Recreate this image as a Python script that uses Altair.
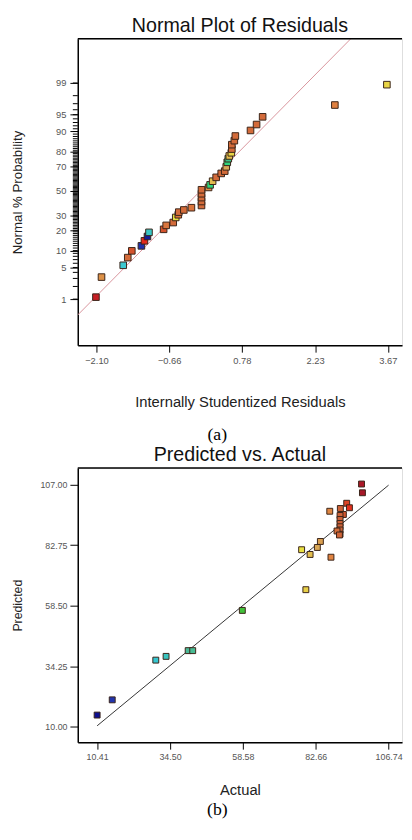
import altair as alt
import pandas as pd
from statistics import NormalDist

# ---------------- panel (a): Normal Plot of Residuals ----------------
resid = [-2.11, -2.00, -1.57, -1.48, -1.40, -1.21, -1.15, -1.09, -1.06, -0.77,
         -0.72, -0.58, -0.53, -0.48, -0.47, -0.37, -0.22, -0.02, -0.02, -0.02,
         -0.02, -0.02, 0.12, 0.15, 0.20, 0.27, 0.37, 0.44, 0.47, 0.49,
         0.51, 0.53, 0.57, 0.58, 0.58, 0.63, 0.65, 0.95, 1.07, 1.19,
         2.62, 3.65]
prob_pct = [1.12, 3.2, 5.5, 7.6, 9.9, 11.9, 14.2, 16.4, 18.7, 20.5,
            23.0, 24.9, 28.5, 30.5, 32.5, 34.2, 36.0, 37.8, 41.1, 44.4,
            47.7, 51.1, 53.1, 55.3, 58.4, 61.6, 64.8, 66.6, 69.9, 73.2,
            75.7, 77.5, 79.5, 81.7, 84.1, 86.1, 88.2, 90.4, 92.4, 94.5,
            96.8, 98.9]
resp_a = [96, 86, 30, 90, 92, 15, 94, 12, 32, 92,
          89, 90, 78, 89, 90, 90, 89, 90, 90, 90,
          90, 90, 86, 50, 81, 90, 90, 90, 83, 50,
          45, 81, 79, 90, 90, 90, 90, 90, 90, 90,
          88, 79]

x_ticks_a = [-2.10, -0.66, 0.78, 2.23, 3.67]
y_major_pct = [1, 5, 10, 20, 30, 50, 70, 80, 90, 95, 99]
y_minor_pct = list(range(1, 100))
fit_intercept = 0.05
fit_slope = 1.1
fit_x = [-2.47, 3.95]

# ---------------- panel (b): Predicted vs. Actual ----------------
actual = [97.8, 98.1, 92.9, 93.8, 90.8, 87.3, 91.8, 90.7, 90.7, 90.7,
          90.7, 90.7, 90.7, 89.7, 90.5, 84.2, 83.2, 78.0, 80.8, 87.7,
          79.4, 58.4, 40.5, 42.0, 33.2, 29.8, 15.4, 10.41]
predicted = [107.2, 103.7, 99.5, 97.7, 97.4, 96.3, 95.0, 94.6, 93.0, 91.4,
             90.1, 88.8, 87.1, 88.4, 86.8, 84.2, 81.8, 80.9, 79.0, 77.9,
             64.9, 56.6, 40.5, 40.5, 38.2, 36.7, 20.8, 14.7]
x_ticks_b = [10.41, 34.50, 58.58, 82.66, 106.74]
y_ticks_b = [10.00, 34.25, 58.50, 82.75, 107.00]
diag = [10.41, 106.74]

# colour map (Design-Expert style, by response value)
c_domain = [10, 16, 30, 41, 50, 58, 78, 83, 88, 91, 94, 98]
c_range = ["#0c0c8c", "#2438b0", "#3cc8d0", "#4cb894", "#30d47c", "#3cc03c",
           "#e8e040", "#d8a858", "#e08040", "#cc6038", "#e42a1c", "#a81828"]
cscale = alt.Scale(domain=c_domain, range=c_range, type="linear")

nd = NormalDist()
z_a = [nd.inv_cdf(p / 100) for p in prob_pct]
major_z = [nd.inv_cdf(p / 100) for p in y_major_pct]
minor_z = [nd.inv_cdf(p / 100) for p in y_minor_pct]

label_expr = "''"
for p, z in zip(y_major_pct, major_z):
    label_expr = f"abs(datum.value - ({z:.8f})) < 1e-5 ? '{p}' : ({label_expr})"

FONT = "Liberation Sans"
SERIF = "Liberation Serif"

df_a = pd.DataFrame({"resid": resid, "z": z_a, "resp": resp_a})
df_fit = pd.DataFrame({"resid": fit_x,
                       "z": [fit_intercept + fit_slope * v for v in fit_x]})
df_minor = pd.DataFrame({"z": minor_z})

WA, HA = 330, 312
xs_a = alt.Scale(domain=[-2.47, 3.95], nice=False, zero=False)
ys_a = alt.Scale(domain=[-3.32, 3.28], nice=False, zero=False)

x_axis_a = alt.Axis(values=x_ticks_a, format=".2f", title="Internally Studentized Residuals",
                    grid=False, domainColor="#000", domainWidth=1.5, tickColor="#000",
                    tickSize=7, labelColor="#555", labelFontSize=9.5, labelFont=FONT,
                    labelPadding=4, titleFont=FONT, titleFontSize=15, titleFontWeight="normal",
                    titleColor="#222", titlePadding=30, labelFlush=False)

y_axis_a = alt.Axis(values=major_z, labelExpr=label_expr, labelOverlap=False,
                    title="Normal % Probability", grid=False, domainColor="#000",
                    domainWidth=1.5, tickColor="#000", tickSize=8,
                    labelColor="#555", labelFontSize=9.5, labelFont=FONT,
                    labelPadding=4, titleFont=FONT, titleFontSize=13.5,
                    titleFontWeight="normal", titleColor="#222", titlePadding=32)

line_a = alt.Chart(df_fit).mark_line(color="#d8949c", strokeWidth=1, clip=True).encode(
    x=alt.X("resid:Q", scale=xs_a, axis=x_axis_a),
    y=alt.Y("z:Q", scale=ys_a, axis=y_axis_a),
)

minor_a = alt.Chart(df_minor).mark_rule(color="#000", strokeWidth=1).encode(
    y=alt.Y("z:Q", scale=ys_a, axis=y_axis_a),
    x=alt.value(-5), x2=alt.value(0),
)

pts_a = alt.Chart(df_a).mark_square(size=45, stroke="#3a2418", strokeWidth=1, opacity=1).encode(
    x=alt.X("resid:Q", scale=xs_a, axis=x_axis_a),
    y=alt.Y("z:Q", scale=ys_a, axis=y_axis_a),
    color=alt.Color("resp:Q", scale=cscale, legend=None),
)

top_a = alt.Chart(pd.DataFrame({"k": [0]})).mark_rule(color="#000", strokeWidth=1.5).encode(
    x=alt.value(0), x2=alt.value(WA), y=alt.value(0))

cap_a = alt.Chart(pd.DataFrame({"t": ["(a)"]})).mark_text(
    font=SERIF, fontSize=18, color="#000", baseline="middle").encode(
    text="t:N", x=alt.value(142), y=alt.value(403))

chart_a = alt.layer(line_a, minor_a, pts_a, top_a, cap_a).properties(
    width=WA, height=HA,
    title=alt.TitleParams("Normal Plot of Residuals", font=FONT, fontSize=20,
                          fontWeight="normal", color="#111", anchor="middle", offset=2))

# ---------------- chart b ----------------
WB, HB = 330, 279
df_b = pd.DataFrame({"actual": actual, "predicted": predicted})
df_diag = pd.DataFrame({"actual": diag, "predicted": diag})
xs_b = alt.Scale(domain=[4.01, 4.01 + WB / 3.079], nice=False, zero=False)
ys_b = alt.Scale(domain=[3.82, 113.57], nice=False, zero=False)

x_axis_b = alt.Axis(values=x_ticks_b, format=".2f", title="Actual", grid=False,
                    domainColor="#000", domainWidth=1.5, tickColor="#000", tickSize=7,
                    labelColor="#555", labelFontSize=9, labelFont=FONT, labelPadding=4,
                    titleFont=FONT, titleFontSize=15, titleFontWeight="normal",
                    titleColor="#222", titlePadding=21, labelFlush=False)
y_axis_b = alt.Axis(values=y_ticks_b, format=".2f", title="Predicted", grid=False,
                    domainColor="#000", domainWidth=1.5, tickColor="#000", tickSize=8,
                    labelColor="#555", labelFontSize=9, labelFont=FONT, labelPadding=3,
                    titleFont=FONT, titleFontSize=12.5, titleFontWeight="normal",
                    titleColor="#222", titlePadding=16)

line_b = alt.Chart(df_diag).mark_line(color="#333", strokeWidth=1).encode(
    x=alt.X("actual:Q", scale=xs_b, axis=x_axis_b),
    y=alt.Y("predicted:Q", scale=ys_b, axis=y_axis_b))

pts_b = alt.Chart(df_b).mark_square(size=36, stroke="#3a2418", strokeWidth=1, opacity=1).encode(
    x=alt.X("actual:Q", scale=xs_b, axis=x_axis_b),
    y=alt.Y("predicted:Q", scale=ys_b, axis=y_axis_b),
    color=alt.Color("actual:Q", scale=cscale, legend=None))

top_b = alt.Chart(pd.DataFrame({"k": [0]})).mark_rule(color="#000", strokeWidth=1.5).encode(
    x=alt.value(0), x2=alt.value(WB), y=alt.value(0))

cap_b = alt.Chart(pd.DataFrame({"t": ["(b)"]})).mark_text(
    font=SERIF, fontSize=18, color="#000", baseline="middle").encode(
    text="t:N", x=alt.value(142), y=alt.value(348))

chart_b = alt.layer(line_b, pts_b, top_b, cap_b).properties(
    width=WB, height=HB,
    title=alt.TitleParams("Predicted vs. Actual", font=FONT, fontSize=20,
                          fontWeight="normal", color="#111", anchor="middle", offset=2))

chart = alt.vconcat(chart_a, chart_b, spacing=125, bounds="flush").properties(
    padding={"left": 1, "top": 0, "right": 0, "bottom": 0}
).configure_view(stroke=None).configure(background="white")

chart.save("out.html", embed_options={"renderer": "svg", "actions": False})
